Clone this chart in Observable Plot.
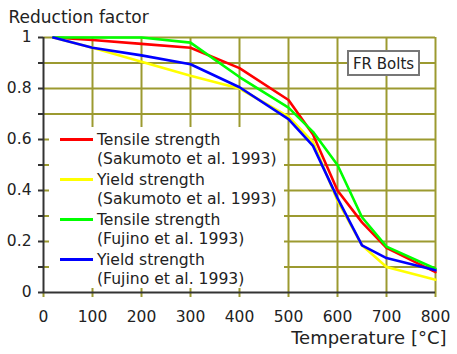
<!DOCTYPE html>
<html>
<head>
<meta charset="utf-8">
<script src="https://cdn.jsdelivr.net/npm/d3@7"></script>
<script src="https://cdn.jsdelivr.net/npm/@observablehq/plot@0.6"></script>
<style>
  html, body { margin: 0; padding: 0; background: #fff; }
  svg { display: block; }
</style>
</head>
<body>
<div id="chart"></div>
<script>
// ---- data ----
const temperatures = [20, 100, 200, 300, 400, 500, 550, 600, 650, 700, 800];
const tensileSakumoto = [1.0, 0.99, 0.975, 0.96, 0.88, 0.755, 0.62, 0.40, 0.275, 0.175, 0.08];
const yieldSakumoto   = [1.0, 0.96, 0.905, 0.85, 0.80, 0.69, 0.59, 0.36, 0.185, 0.10, 0.05];
const tensileFujino   = [1.0, 1.0, 1.0, 0.98, 0.845, 0.725, 0.63, 0.50, 0.295, 0.18, 0.093];
const yieldFujino     = [1.0, 0.96, 0.93, 0.895, 0.805, 0.68, 0.575, 0.37, 0.185, 0.135, 0.087];

const seriesNames = ["Tensile Sakumoto", "Yield Sakumoto", "Tensile Fujino", "Yield Fujino"];
const seriesLabels = [
  ["Tensile strength", "(Sakumoto et al. 1993)"],
  ["Yield strength", "(Sakumoto et al. 1993)"],
  ["Tensile strength", "(Fujino et al. 1993)"],
  ["Yield strength", "(Fujino et al. 1993)"]
];
const seriesColors = ["#ff0000", "#ffff00", "#00ff00", "#0000ff"];
const seriesValues = [tensileSakumoto, yieldSakumoto, tensileFujino, yieldFujino];

const xTicks = [0, 100, 200, 300, 400, 500, 600, 700, 800];
const yTicks = [0, 0.2, 0.4, 0.6, 0.8, 1];
const yMinorTicks = [0.1, 0.3, 0.5, 0.7, 0.9];
const xGridValues = [100, 200, 300, 400, 500, 600, 700, 800];
const yGridValues = [0.1, 0.2, 0.3, 0.4, 0.5, 0.6, 0.7, 0.8, 0.9, 1];

const titleText = "Reduction factor";
const xLabelText = "Temperature [°C]";
const boxText = "FR Bolts";

// ---- build rows ----
const rows = [];
seriesNames.forEach((name, s) => {
  temperatures.forEach((t, i) => rows.push({series: name, t, v: seriesValues[s][i]}));
});

const olive = "#9c9a30";
const ink = "#222";
const font = "DejaVu Sans";

const chart = Plot.plot({
  width: 457,
  height: 354,
  marginLeft: 43,
  marginRight: 22,
  marginTop: 37,
  marginBottom: 62,
  style: {fontFamily: font, fontSize: "15.5px", color: ink, background: "#fff"},
  x: {domain: [0, 800]},
  y: {domain: [0, 1]},
  color: {domain: seriesNames, range: seriesColors},
  marks: [
    Plot.gridX(xGridValues, {stroke: olive, strokeOpacity: 1, strokeWidth: 2}),
    Plot.gridY(yGridValues, {stroke: olive, strokeOpacity: 1, strokeWidth: 2}),
    Plot.axisX(xTicks, {tickSize: 5, tickPadding: 13, stroke: olive, strokeWidth: 2, fill: ink, label: null, tickFormat: d => String(d)}),
    Plot.axisY(yTicks, {tickSize: 5, tickPadding: 7, stroke: "#333", strokeWidth: 2, fill: ink, label: null, tickFormat: d => String(d)}),
    Plot.axisY(yMinorTicks, {tickSize: 5, stroke: "#333", strokeWidth: 2, label: null, tickFormat: () => ""}),
    Plot.ruleX([0], {stroke: "#333", strokeWidth: 2}),
    Plot.ruleY([0], {stroke: "#333", strokeWidth: 2}),
    Plot.line(rows, {x: "t", y: "v", z: "series", stroke: "series", strokeWidth: 2.6}),
    Plot.text([titleText], {frameAnchor: "top-left", dx: -35, dy: -15, lineAnchor: "bottom", textAnchor: "start", fontSize: 17, fill: ink}),
    Plot.text([xLabelText], {frameAnchor: "bottom-right", dx: 11, dy: 51, lineAnchor: "bottom", textAnchor: "end", fontSize: 18, fill: ink})
  ]
});

// ---- legend and annotation box ----
const svg = d3.select(chart);
const lg = svg.append("g")
  .style("font-family", font).style("font-size", "15.6px").style("fill", ink)
  .attr("text-anchor", "start");
lg.append("rect").attr("x", 49).attr("y", 127).attr("width", 235).attr("height", 161)
  .style("fill", "#ffffff").style("stroke", "none");
seriesNames.forEach((name, i) => {
  const y = 139.5 + i * 40;
  lg.append("line").attr("x1", 60).attr("x2", 93).attr("y1", y).attr("y2", y)
    .style("stroke", seriesColors[i]).style("stroke-width", 3);
  lg.append("text").attr("x", 97).attr("y", y + 5.5).attr("text-anchor", "start").text(seriesLabels[i][0]);
  lg.append("text").attr("x", 97).attr("y", y + 24).attr("text-anchor", "start").text(seriesLabels[i][1]);
});
const bx = svg.append("g").style("font-family", font);
bx.append("rect").attr("x", 348).attr("y", 51).attr("width", 71).attr("height", 24)
  .style("fill", "#ffffff").style("stroke", "#777").style("stroke-width", 2);
bx.append("text").attr("x", 383.5).attr("y", 68.5).attr("text-anchor", "middle")
  .style("font-size", "15px").style("fill", ink).text(boxText);

document.getElementById("chart").appendChild(chart);
</script>
</body>
</html>
